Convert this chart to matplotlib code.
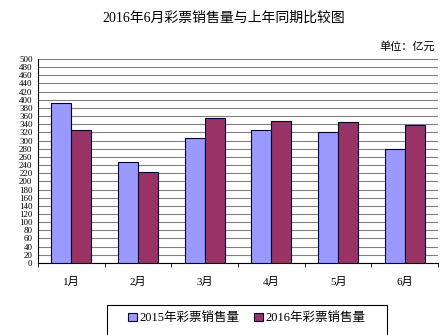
import matplotlib
matplotlib.use("Agg")
import matplotlib.pyplot as plt
from matplotlib.patches import Rectangle
import numpy as np

# lottery sales, 100 million yuan
months = ["1月", "2月", "3月", "4月", "5月", "6月"]
sales_2015 = [392, 247, 306, 325, 321, 279]
sales_2016 = [326, 223, 356, 347, 345, 338]
yticks = list(range(0, 501, 20))

fam = ["Liberation Serif", "Noto Sans CJK SC"]
plt.rcParams["font.family"] = fam

fig = plt.figure(figsize=(4.48, 3.35), dpi=100)
ax = fig.add_axes([0.085, 0.215, 0.893, 0.609])

x = np.arange(len(months))
w = 0.3
ax.bar(x - w/2, sales_2015, w, color="#9999FF", edgecolor="#000033", linewidth=0.8,
       label="2015年彩票销售量", zorder=3)
ax.bar(x + w/2, sales_2016, w, color="#993366", edgecolor="#000033", linewidth=0.8,
       label="2016年彩票销售量", zorder=3)

ax.set_xlim(-0.5, len(months) - 0.5)
ax.set_ylim(0, 500)
ax.set_yticks(yticks)
ax.set_yticklabels([str(v) for v in yticks], fontsize=6.5)
ax.yaxis.grid(True, color="#808080", linewidth=0.8, zorder=0)
ax.tick_params(axis="y", length=0, pad=4)

ax.set_xticks(x)
ax.set_xticklabels(months, fontsize=8)
ax.set_xticks(np.arange(-0.5, len(months), 1), minor=True)
ax.tick_params(axis="x", which="major", length=0, pad=10)
ax.tick_params(axis="x", which="minor", length=3, color="black", width=0.6)

for s in ["top", "right"]:
    ax.spines[s].set_visible(False)
ax.spines["left"].set_color("black")
ax.spines["bottom"].set_color("black")

fig.text(0.5, 0.945, "2016年6月彩票销售量与上年同期比较图", ha="center", va="center", fontsize=10)
fig.text(0.97, 0.86, "单位：亿元", ha="right", va="center", fontsize=8)

# legend box runs off the bottom edge in the original
fig.patches.append(Rectangle((0.239, -0.1), 0.625, 0.19, transform=fig.transFigure,
                             fill=False, edgecolor="black", linewidth=0.8))
fig.legend(loc="center", bbox_to_anchor=(0.551, 0.05), ncol=2, fontsize=9,
           frameon=False, handlelength=0.7, handleheight=0.7, handletextpad=0.2,
           columnspacing=1.2, borderpad=0, borderaxespad=0)

fig.savefig("out.png", dpi=100)
